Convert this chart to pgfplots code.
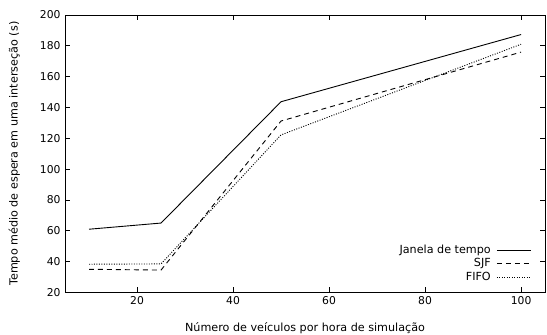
\documentclass[border=0pt]{standalone}
\usepackage{fontspec}
\setmainfont{DejaVu Sans}
\usepackage{pgfplots}
\pgfplotsset{compat=1.18}
\begin{document}
\begin{tikzpicture}
\begin{pgfinterruptboundingbox}
\begin{axis}[
  scale only axis,
  width=481pt, height=278pt,
  xmin=5, xmax=105, ymin=20, ymax=200,
  clip=false,
  xtick={20,40,60,80,100},
  ytick={20,40,...,200},
  tick align=inside,
  major tick length=5pt,
  tick style={black, line width=0.6pt},
  axis line style={line width=0.6pt},
  font=\fontsize{11.2}{13}\selectfont,
  /pgf/number format/assume math mode=true,
  ticklabel style={font=\fontsize{10.8}{13}\selectfont},
  yticklabel style={xshift=-1pt},
  xticklabel style={yshift=-1pt},
  xlabel={Número de veículos por hora de simulação},
  ylabel={Tempo médio de espera em uma interseção (s)},
  xlabel style={yshift=-11pt},
  ylabel style={yshift=13pt},
  legend style={draw=none, fill=none, font=\fontsize{11.2}{13}\selectfont, row sep=2.5pt, at={(0.972,0.035)}, anchor=south east, inner sep=0pt,
    nodes={inner sep=0pt, text height=8.5pt, text depth=2.5pt}},
  legend cell align=right,
  legend plot pos=right,
  legend image code/.code={\path (0cm,0cm); \draw[#1] (0.2cm,0cm) -- (1.4cm,0cm);},
]
\addplot[black, line width=0.9pt] coordinates {(10,61) (25,65) (50,143.7) (100,187.3)};
\addlegendentry{Janela de tempo}
\addplot[black, line width=0.9pt, dash pattern=on 5pt off 4pt] coordinates {(10,35) (25,34.5) (50,131.2) (100,175.9)};
\addlegendentry{SJF}
\addplot[black, line width=0.9pt, dash pattern=on 1pt off 1.5pt] coordinates {(10,38.3) (25,38.5) (50,122.2) (100,181)};
\addlegendentry{FIFO}
\coordinate (bl) at (axis cs:-8.54,-7.2);
\coordinate (tr) at (axis cs:105.4,209.7);
\end{axis}
\end{pgfinterruptboundingbox}
\useasboundingbox (bl) rectangle (tr);
\end{tikzpicture}
\end{document}
